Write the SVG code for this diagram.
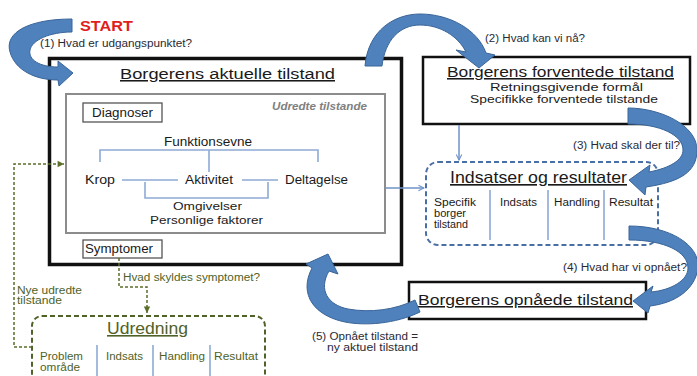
<svg xmlns="http://www.w3.org/2000/svg" width="697" height="376" viewBox="0 0 697 376">
<defs>
<style>
text{font-family:"Liberation Sans",Arial,sans-serif;fill:#1a1a1a}
.q{font-size:10px;fill:#2a2a35}
.t12{font-size:12px}
.t11{font-size:11px}
.title{font-size:15.5px;text-decoration:underline}
.ol{fill:#4f6228}
.sm{font-size:10px}
.bbox{fill:#fff;stroke:#111;stroke-width:2.5}
.lb{fill:none;stroke:#8eaad6;stroke-width:1.6}
.arrow{fill:#4f81bd;stroke:#3a6598;stroke-width:1}
.gd{fill:none;stroke:#5a6e2a;stroke-width:1.5;stroke-dasharray:3 2}
</style>
<marker id="ab" viewBox="0 0 10 10" refX="9" refY="5" markerWidth="7" markerHeight="7" orient="auto" markerUnits="userSpaceOnUse">
<path d="M1,1 L9,5 L1,9" fill="none" stroke="#6f93c9" stroke-width="1.5"/>
</marker>
<marker id="ag" viewBox="0 0 10 10" refX="9" refY="5" markerWidth="8" markerHeight="8" orient="auto" markerUnits="userSpaceOnUse">
<path d="M1,1 L9,5 L1,9 Z" fill="#5a6e2a"/>
</marker>
</defs>
<rect width="697" height="376" fill="#fff"/>

<g id="start">
<text x="80" y="31" font-size="15" font-weight="bold" style="fill:#e01e1e" textLength="53" lengthAdjust="spacingAndGlyphs">START</text>
<text class="q" x="40" y="47" textLength="152" lengthAdjust="spacingAndGlyphs">(1) Hvad er udgangspunktet?</text>
</g>

<g id="aktuelle">
<rect x="49.5" y="58.5" width="352" height="206" fill="#fff" stroke="#111" stroke-width="3.5"/>
<text x="120" y="79" class="title" font-size="16" textLength="215" lengthAdjust="spacingAndGlyphs">Borgerens aktuelle tilstand</text>
<rect x="66" y="94" width="319" height="139" fill="#fff" stroke="#8c8c8c" stroke-width="2"/>
<text x="272" y="110" font-size="10" font-weight="bold" font-style="italic" style="fill:#808080" textLength="95" lengthAdjust="spacingAndGlyphs">Udredte tilstande</text>
<rect x="83" y="103" width="79" height="19" fill="#fff" stroke="#555" stroke-width="1.3"/>
<text class="t12" x="92" y="117" textLength="61" lengthAdjust="spacingAndGlyphs">Diagnoser</text>
<text class="t12" x="164" y="146" textLength="88" lengthAdjust="spacingAndGlyphs">Funktionsevne</text>
<path class="lb" d="M100,162 V150 H318 V162 M209,150 V172 M122,180 H178 M242,180 H278 M145,182 V198 H268 V182"/>
<text class="t12" x="85" y="184" textLength="30" lengthAdjust="spacingAndGlyphs">Krop</text>
<text class="t12" x="185" y="184" textLength="48" lengthAdjust="spacingAndGlyphs">Aktivitet</text>
<text class="t12" x="285" y="184" textLength="63" lengthAdjust="spacingAndGlyphs">Deltagelse</text>
<text class="t11" x="173" y="210" textLength="69" lengthAdjust="spacingAndGlyphs">Omgivelser</text>
<text class="t11" x="150" y="224" textLength="113" lengthAdjust="spacingAndGlyphs">Personlige faktorer</text>
<rect x="83" y="240" width="79" height="18" fill="#fff" stroke="#555" stroke-width="1.3"/>
<text class="t12" x="85" y="253" textLength="68" lengthAdjust="spacingAndGlyphs">Symptomer</text>
</g>

<g id="forventede">
<rect class="bbox" x="423" y="57" width="267" height="67"/>
<text x="447" y="77" class="title" textLength="227" lengthAdjust="spacingAndGlyphs">Borgerens forventede tilstand</text>
<text x="490" y="91" font-size="11.5" textLength="153" lengthAdjust="spacingAndGlyphs">Retningsgivende formål</text>
<text x="470" y="103" font-size="11.5" textLength="188" lengthAdjust="spacingAndGlyphs">Specifikke forventede tilstande</text>
<text class="q" x="485" y="42" textLength="100" lengthAdjust="spacingAndGlyphs">(2) Hvad kan vi nå?</text>
</g>

<g id="indsatser">
<rect x="426" y="162" width="232" height="83" rx="12" fill="#fff" stroke="#4a6fa5" stroke-width="2" stroke-dasharray="5 3"/>
<text x="450" y="183" font-size="16.5" style="text-decoration:underline" textLength="177" lengthAdjust="spacingAndGlyphs">Indsatser og resultater</text>
<path class="lb" d="M490,190 V240 M548,190 V240 M604,190 V240"/>
<text class="sm" x="434" y="206" textLength="42" lengthAdjust="spacingAndGlyphs">Specifik</text>
<text class="sm" x="434" y="217" textLength="32" lengthAdjust="spacingAndGlyphs">borger</text>
<text class="sm" x="434" y="228" textLength="34" lengthAdjust="spacingAndGlyphs">tilstand</text>
<text class="sm" x="500" y="206" textLength="37" lengthAdjust="spacingAndGlyphs">Indsats</text>
<text class="sm" x="554" y="206" textLength="46" lengthAdjust="spacingAndGlyphs">Handling</text>
<text class="sm" x="609" y="206" textLength="44" lengthAdjust="spacingAndGlyphs">Resultat</text>
<text class="q" x="573" y="149" textLength="107" lengthAdjust="spacingAndGlyphs">(3) Hvad skal der til?</text>
</g>

<g id="opnaaede">
<rect class="bbox" x="409" y="282" width="237" height="37"/>
<text x="418" y="305" class="title" textLength="215" lengthAdjust="spacingAndGlyphs">Borgerens opnåede tilstand</text>
<text class="q" x="563" y="271" textLength="124" lengthAdjust="spacingAndGlyphs">(4) Hvad har vi opnået?</text>
<text class="q" x="312" y="340" textLength="106" lengthAdjust="spacingAndGlyphs">(5) Opnået tilstand =</text>
<text class="q" x="327" y="351" textLength="91" lengthAdjust="spacingAndGlyphs">ny aktuel tilstand</text>
</g>

<g id="udredning">
<rect x="32" y="316" width="233" height="80" rx="10" fill="#fff" stroke="#4f6228" stroke-width="2" stroke-dasharray="5 3"/>
<text class="ol" x="107" y="334" font-size="16" style="text-decoration:underline" textLength="81" lengthAdjust="spacingAndGlyphs">Udredning</text>
<path class="lb" d="M97,345 V376 M153,345 V376 M210,345 V376"/>
<text class="sm ol" x="40" y="360" textLength="43" lengthAdjust="spacingAndGlyphs">Problem</text>
<text class="sm ol" x="40" y="371" textLength="40" lengthAdjust="spacingAndGlyphs">område</text>
<text class="sm ol" x="106" y="360" textLength="37" lengthAdjust="spacingAndGlyphs">Indsats</text>
<text class="sm ol" x="159" y="360" textLength="46" lengthAdjust="spacingAndGlyphs">Handling</text>
<text class="sm ol" x="214" y="360" textLength="44" lengthAdjust="spacingAndGlyphs">Resultat</text>
</g>

<g id="connectors">
<path d="M459,125 V160" fill="none" stroke="#6f93c9" stroke-width="1.5" marker-end="url(#ab)"/>
<path d="M386,188 H424" fill="none" stroke="#6f93c9" stroke-width="1.5" marker-end="url(#ab)"/>
<path class="gd" d="M32,347 H14 V164 H64" marker-end="url(#ag)"/>
<path class="gd" d="M119,258 V287 H147 V313" marker-end="url(#ag)"/>
<text class="sm ol" x="123" y="281" textLength="137" lengthAdjust="spacingAndGlyphs">Hvad skyldes symptomet?</text>
<text class="sm ol" x="17" y="294" textLength="65" lengthAdjust="spacingAndGlyphs">Nye udredte</text>
<text class="sm ol" x="17" y="304" textLength="45" lengthAdjust="spacingAndGlyphs">tilstande</text>
<path class="arrow" d="M72,19 C30,19 4,32 10,52 C15,70 35,80 58,80 L59,86 L73,73 L58,61 L58,67 C40,67 28,60 30,50 C32,40 50,32 72,32 Z"/>
<path class="arrow" d="M365,66 C368,30 395,14 420,14 C450,14 478,30 486,53 L495,55 L479,68 L456,50 L466,52 C458,36 440,25 420,25 C400,25 385,40 382,66 Z"/>
<path class="arrow" d="M628,108 C660,108 697,125 697,150 C697,172 680,182 646,187 L645,195 L629,180 L650,165 L649,172 C670,168 683,160 683,150 C683,135 660,124 628,124 Z"/>
<path class="arrow" d="M629,226 C670,226 700,245 698,268 C695,290 675,303 650,306 L648,313 L633,301 L653,286 L651,292 C672,290 688,280 688,268 C688,252 665,240 629,240 Z"/>
<path class="arrow" d="M420,312 C395,324 365,326 345,322 C315,316 298,295 312,268 L306,264 L328,254 L338,274 L329,271 C318,290 328,305 348,309 C370,313 395,310 415,300 Z"/>
</g>
</svg>
